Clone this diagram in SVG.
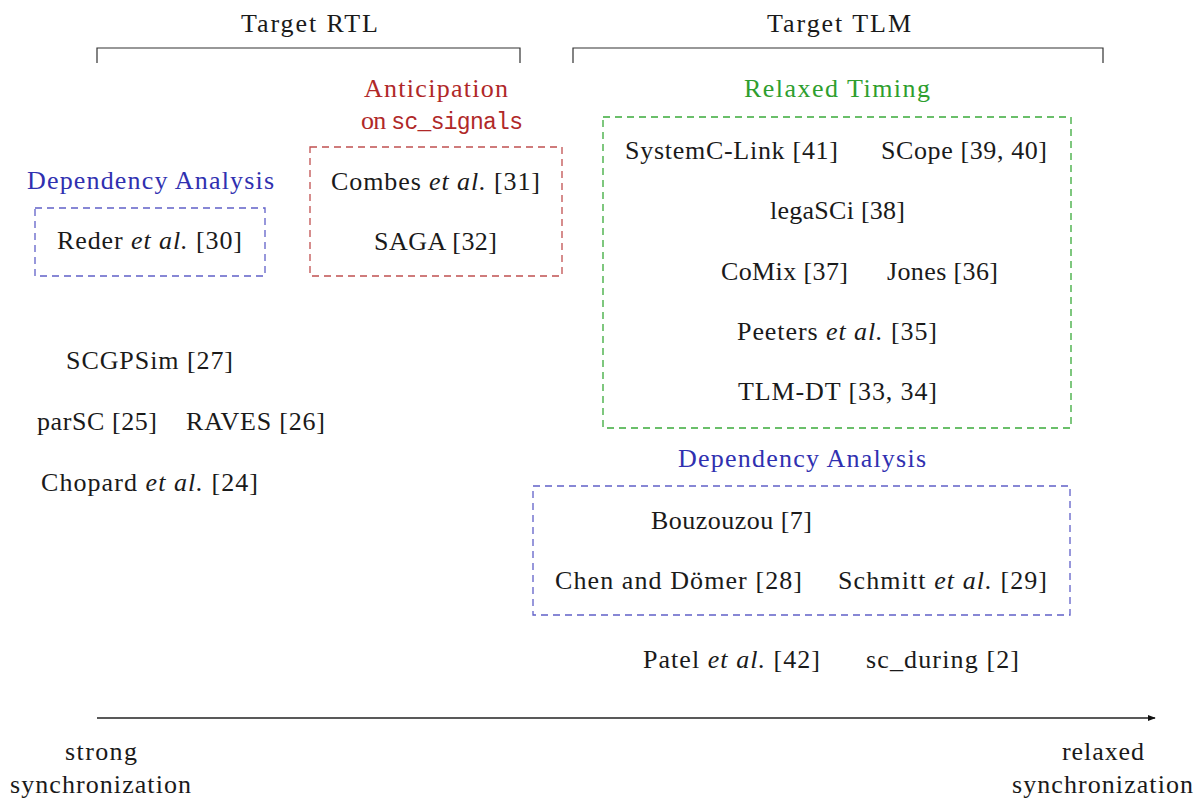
<svg xmlns="http://www.w3.org/2000/svg" width="1202" height="799" viewBox="0 0 1202 799">
<defs>
<style>
text{font-family:"Liberation Serif","DejaVu Serif",serif;font-size:26px;fill:#1a1a1a}
.blue{fill:#3030b0}
.red{fill:#b02828}
.green{fill:#2e9e2e}
.it{font-style:italic}
.mono{font-family:"Liberation Mono","DejaVu Sans Mono",monospace;font-size:23px}
.box{fill:none;stroke-width:1.3;stroke-dasharray:7 5}
.bbox{stroke:#6060c8}
.rbox{stroke:#c05050}
.gbox{stroke:#3aaa3a}
.line{fill:none;stroke:#333;stroke-width:1.2}
</style>
<marker id="arr" viewBox="0 0 10 10" refX="9" refY="5" markerWidth="8" markerHeight="8" markerUnits="userSpaceOnUse" orient="auto"><path d="M0,1 L10,5 L0,9 z" fill="#111"/></marker>
</defs>
<g id="connectors">
<path class="line" d="M97,63 V48 H520 V63"/>
<path class="line" d="M573,63 V48 H1103 V63"/>
<line x1="97" y1="718" x2="1155" y2="718" stroke="#222" stroke-width="1.3" marker-end="url(#arr)"/>
</g>
<g id="target-rtl"><text x="241" y="32" textLength="137" lengthAdjust="spacing">Target RTL</text></g>
<g id="target-tlm"><text x="767" y="32" textLength="144" lengthAdjust="spacing">Target TLM</text></g>
<g id="anticipation">
<text class="red" x="364" y="97" textLength="144" lengthAdjust="spacing">Anticipation</text>
<text class="red" x="361" y="129" textLength="162" lengthAdjust="spacing">on <tspan class="mono">sc_signals</tspan></text>
<rect class="box rbox" x="310" y="147" width="252" height="129"/>
<text x="331" y="190" textLength="209" lengthAdjust="spacing">Combes <tspan class="it">et al.</tspan> [31]</text>
<text x="374" y="250" textLength="123" lengthAdjust="spacing">SAGA [32]</text>
</g>
<g id="dep-rtl">
<text class="blue" x="27" y="189" textLength="247" lengthAdjust="spacing">Dependency Analysis</text>
<rect class="box bbox" x="35" y="208" width="230" height="68"/>
<text x="57" y="249" textLength="185" lengthAdjust="spacing">Reder <tspan class="it">et al.</tspan> [30]</text>
</g>
<g id="scgpsim"><text x="66" y="369" textLength="167" lengthAdjust="spacing">SCGPSim [27]</text></g>
<g id="parsc"><text x="37" y="430" textLength="120" lengthAdjust="spacing">parSC [25]</text></g>
<g id="raves"><text x="186" y="430" textLength="139" lengthAdjust="spacing">RAVES [26]</text></g>
<g id="chopard"><text x="41" y="491" textLength="217" lengthAdjust="spacing">Chopard <tspan class="it">et al.</tspan> [24]</text></g>
<g id="relaxed-timing">
<text class="green" x="744" y="97" textLength="186" lengthAdjust="spacing">Relaxed Timing</text>
<rect class="box gbox" x="603" y="117" width="468" height="311"/>
<text x="625" y="159" textLength="213" lengthAdjust="spacing">SystemC-Link [41]</text>
<text x="881" y="159" textLength="166" lengthAdjust="spacing">SCope [39, 40]</text>
<text x="770" y="219" textLength="135" lengthAdjust="spacing">legaSCi [38]</text>
<text x="721" y="280" textLength="127" lengthAdjust="spacing">CoMix [37]</text>
<text x="887" y="280" textLength="111" lengthAdjust="spacing">Jones [36]</text>
<text x="737" y="340" textLength="200" lengthAdjust="spacing">Peeters <tspan class="it">et al.</tspan> [35]</text>
<text x="738" y="400" textLength="199" lengthAdjust="spacing">TLM-DT [33, 34]</text>
</g>
<g id="dep-tlm">
<text class="blue" x="678" y="467" textLength="248" lengthAdjust="spacing">Dependency Analysis</text>
<rect class="box bbox" x="533" y="486" width="537" height="129"/>
<text x="651" y="529" textLength="161" lengthAdjust="spacing">Bouzouzou [7]</text>
<text x="555" y="589" textLength="247" lengthAdjust="spacing">Chen and Dömer [28]</text>
<text x="838" y="589" textLength="209" lengthAdjust="spacing">Schmitt <tspan class="it">et al.</tspan> [29]</text>
</g>
<g id="patel"><text x="643" y="668" textLength="177" lengthAdjust="spacing">Patel <tspan class="it">et al.</tspan> [42]</text></g>
<g id="sc-during"><text x="866" y="668" textLength="153" lengthAdjust="spacing">sc_during [2]</text></g>
<g id="strong">
<text x="65" y="760" textLength="72" lengthAdjust="spacing">strong</text>
<text x="10" y="793" textLength="181" lengthAdjust="spacing">synchronization</text>
</g>
<g id="relaxed">
<text x="1062" y="760" textLength="82" lengthAdjust="spacing">relaxed</text>
<text x="1012" y="793" textLength="181" lengthAdjust="spacing">synchronization</text>
</g>
</svg>
